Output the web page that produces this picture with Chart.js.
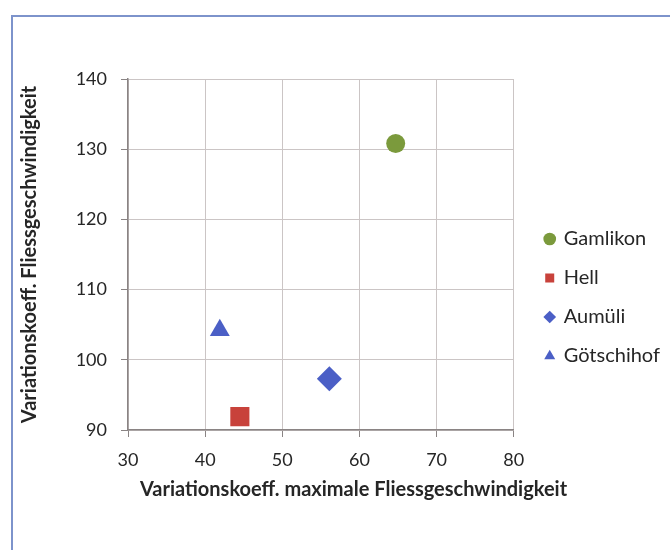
<!DOCTYPE html>
<html>
<head>
<meta charset="utf-8">
<script src="https://cdn.jsdelivr.net/npm/chart.js@4.4.1/dist/chart.umd.min.js"></script>
<style>
  html, body { margin: 0; padding: 0; background: #fff; }
  #wrap { position: relative; width: 670px; height: 550px; }
  #frame { position: absolute; left: 11px; top: 15px; right: 0; bottom: 0;
           border-top: 2px solid #7d93cb; border-left: 2px solid #7d93cb; pointer-events: none; }
</style>
</head>
<body>
<div id="wrap">
  <canvas id="scatter" width="670" height="550"></canvas>
  <div id="frame"></div>
</div>
<script>
// data
const stations = ['Gamlikon', 'Hell', 'Aumüli', 'Götschihof'];
const varMaxSpeed = [64.7, 44.5, 56.1, 41.9];   // x: Variationskoeff. maximale Fliessgeschwindigkeit
const varSpeed = [130.8, 91.9, 97.3, 104.2];    // y: Variationskoeff. Fliessgeschwindigkeit
const xTicks = [30, 40, 50, 60, 70, 80];
const yTicks = [90, 100, 110, 120, 130, 140];

// marker styles
const colors = ['#7b9a3c', '#c8423b', '#4b5fc6', '#4b5fc6'];
const shapes = ['circle', 'rect', 'rectRot', 'triangle'];
const radii = [9.5, 13.5, 12.5, 11.5];

const textColor = '#262626';
const gridColor = '#cbc5c5';
const axisColor = '#8a8484';

// move legend and bottom title to where the original puts them
const nudge = {
  id: 'nudge',
  afterLayout(chart) {
    const lg = chart.legend;
    lg.left += 13; lg.right += 13;
    lg.top -= 17; lg.bottom -= 17;
    const tb = chart.titleBlock;
    tb.left += 25; tb.right += 25;
  }
};

const ctx = document.getElementById('scatter').getContext('2d');
const scatterChart = new Chart(ctx, {
  type: 'scatter',
  data: {
    datasets: stations.map((name, i) => ({
      label: name,
      data: [{x: varMaxSpeed[i], y: varSpeed[i]}],
      backgroundColor: colors[i],
      borderColor: colors[i],
      borderWidth: 0,
      pointStyle: shapes[i],
      pointRadius: radii[i],
      pointHoverRadius: radii[i]
    }))
  },
  options: {
    responsive: false,
    animation: false,
    layout: { padding: { top: 79, right: 13, left: 0, bottom: 0 } },
    plugins: {
      tooltip: { enabled: false },
      legend: {
        position: 'right',
        labels: {
          usePointStyle: true,
          boxWidth: 8,
          boxHeight: 9,
          padding: 19,
          color: textColor,
          font: { family: 'Lato', size: 20 }
        }
      },
      title: {
        display: true,
        position: 'bottom',
        text: 'Variationskoeff. maximale Fliessgeschwindigkeit',
        color: textColor,
        font: { family: 'Lato', size: 20, weight: 'bold' },
        padding: { top: 0, bottom: 48 }
      }
    },
    scales: {
      x: {
        type: 'linear',
        min: xTicks[0],
        max: xTicks[xTicks.length - 1],
        afterBuildTicks: s => { s.ticks = xTicks.map(v => ({value: v})); },
        afterFit: s => { s.height = 48; },
        ticks: { color: textColor, padding: 12, font: { family: 'Lato', size: 18 } },
        grid: { color: gridColor, tickColor: axisColor, tickLength: 7 },
        border: { color: axisColor, width: 1.5 }
      },
      y: {
        type: 'linear',
        min: yTicks[0],
        max: yTicks[yTicks.length - 1],
        afterBuildTicks: s => { s.ticks = yTicks.map(v => ({value: v})); },
        afterFit: s => { s.width = 128; },
        ticks: { color: textColor, padding: 14, font: { family: 'Lato', size: 18 } },
        grid: { color: gridColor, tickColor: axisColor, tickLength: 7 },
        border: { color: axisColor, width: 1.5 },
        title: {
          display: true,
          text: 'Variationskoeff. Fliessgeschwindigkeit',
          color: textColor,
          font: { family: 'Lato', size: 20, weight: 'bold' },
          padding: { top: 18, bottom: 0 }
        }
      }
    }
  },
  plugins: [nudge]
});
</script>
</body>
</html>
